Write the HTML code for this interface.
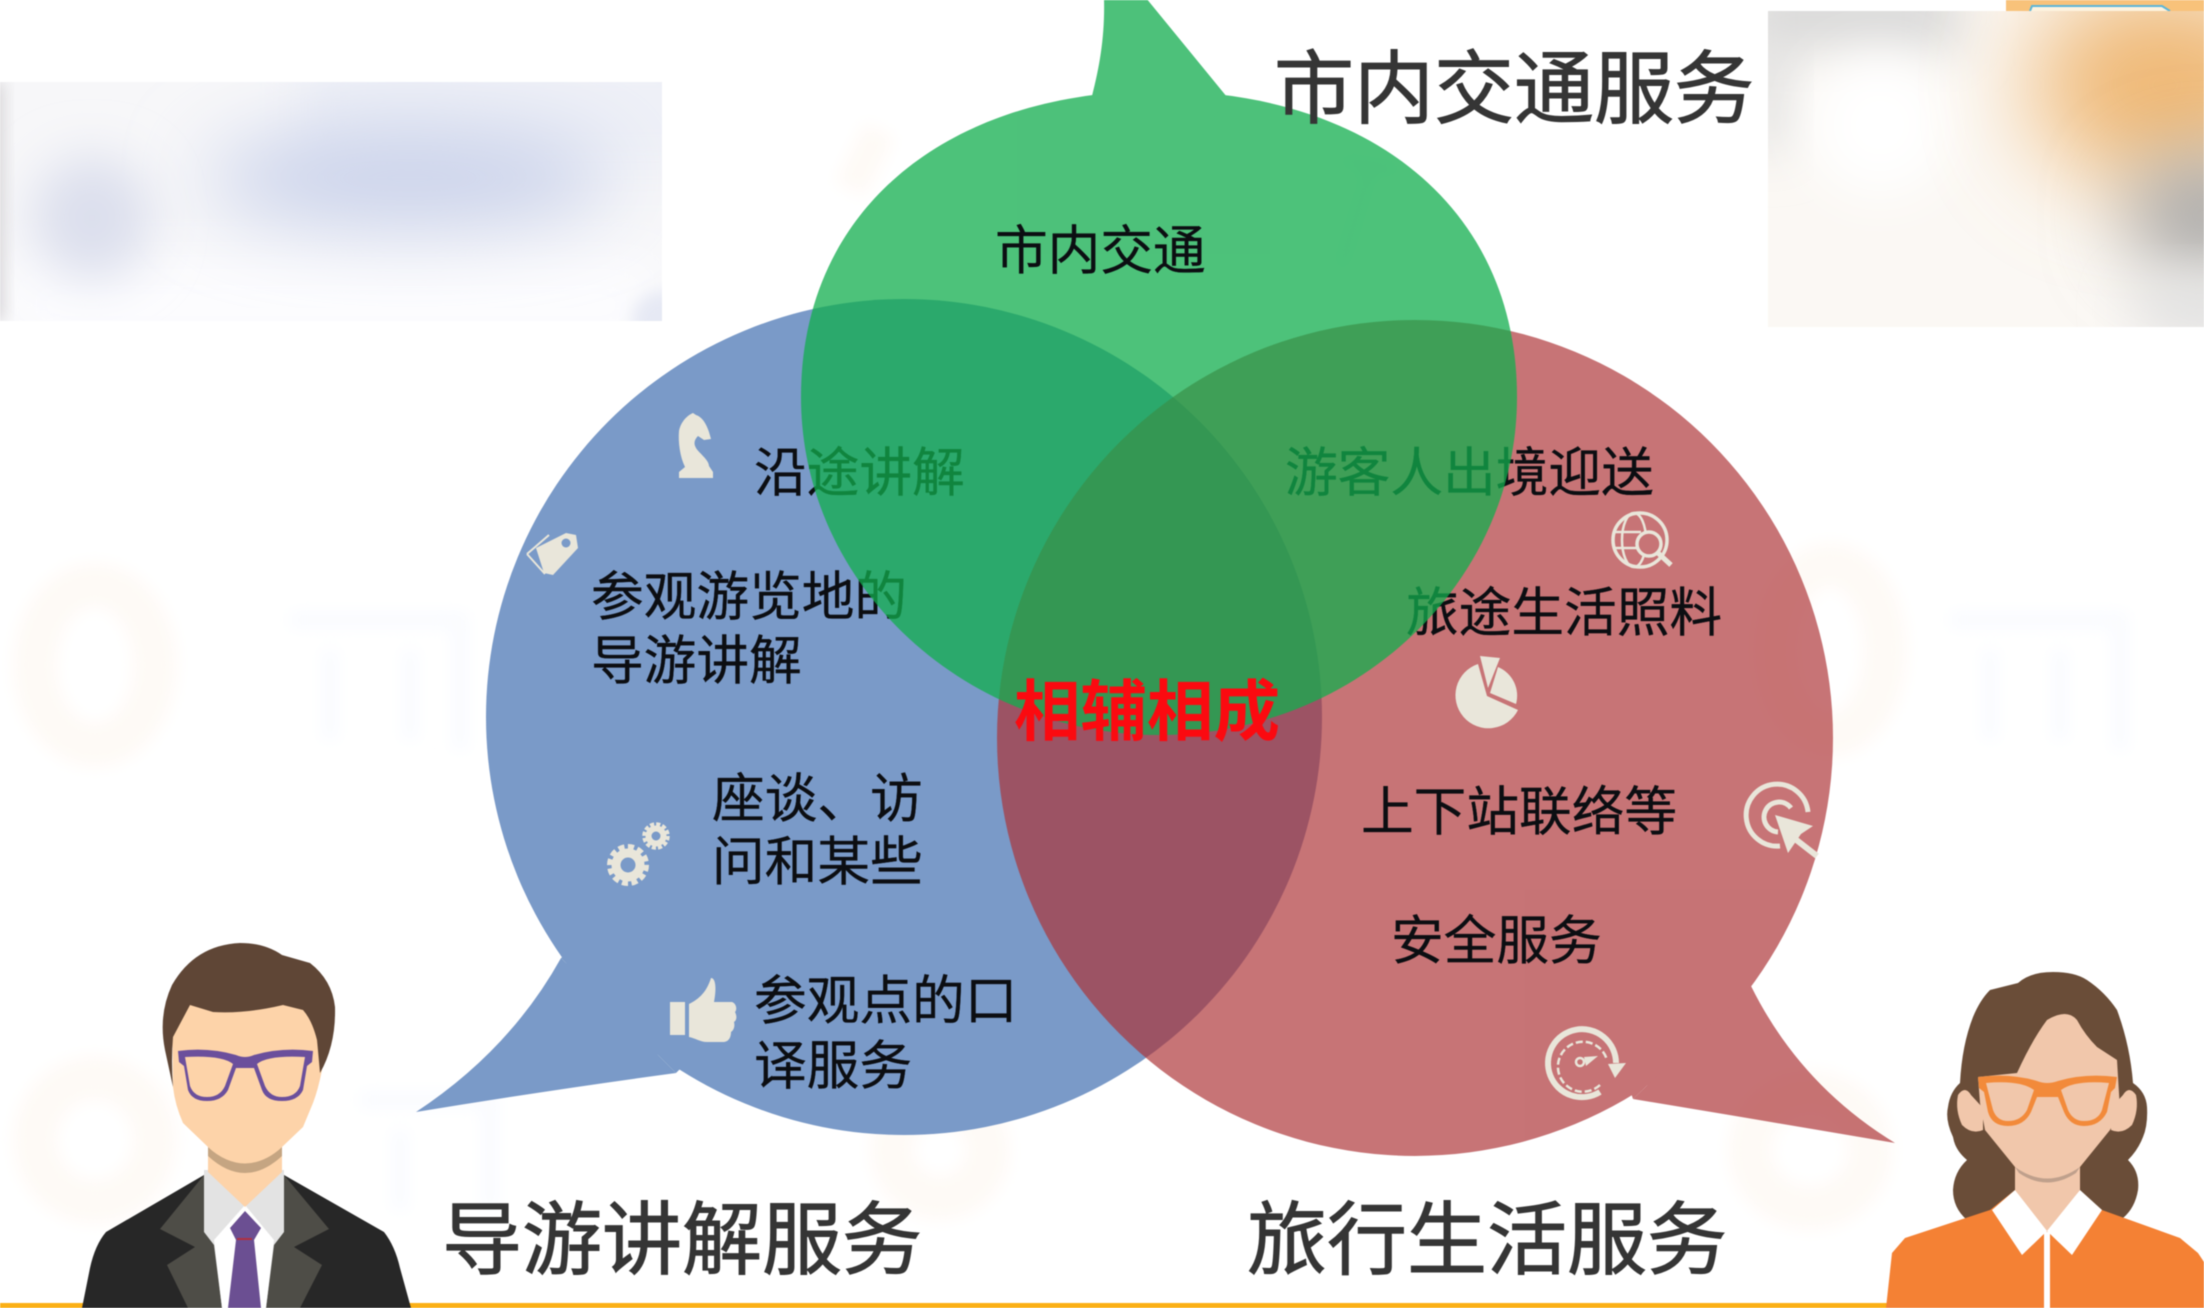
<!DOCTYPE html>
<html><head><meta charset="utf-8"><style>
html,body{margin:0;padding:0;background:#fff;width:2204px;height:1308px;overflow:hidden}
svg{display:block;filter:blur(.6px)}
text{font-family:"Liberation Sans","Noto Sans CJK SC",sans-serif}
.b{font-size:52.7px;fill:#0c0e12;stroke:#0c0e12;stroke-width:.35}
.t{font-size:80px;fill:#353535;stroke:#353535;stroke-width:1}
</style></head><body>
<svg width="2204" height="1308" viewBox="0 0 2204 1308" xmlns="http://www.w3.org/2000/svg">
<defs>
<filter id="f50" x="-80%" y="-80%" width="260%" height="260%"><feGaussianBlur stdDeviation="50"/></filter>
<filter id="f40" x="-80%" y="-80%" width="260%" height="260%"><feGaussianBlur stdDeviation="40"/></filter>
<filter id="f25" x="-60%" y="-60%" width="220%" height="220%"><feGaussianBlur stdDeviation="25"/></filter>
<filter id="f8" x="-30%" y="-30%" width="160%" height="160%"><feGaussianBlur stdDeviation="8"/></filter>
<clipPath id="cl"><rect x="0" y="82" width="662" height="239"/></clipPath>
<clipPath id="cr"><rect x="1768" y="11" width="436" height="316"/></clipPath>
</defs>
<rect width="2204" height="1308" fill="#fff"/>

<!-- faint watermarks -->
<g filter="url(#f8)" fill="none" stroke-width="44">
<ellipse cx="95" cy="665" rx="60" ry="80" stroke="#fefaf6"/>
<ellipse cx="95" cy="1140" rx="60" ry="62" stroke="#fefaf6"/>
<ellipse cx="1830" cy="650" rx="55" ry="85" stroke="#fefaf6"/>
<ellipse cx="1810" cy="1150" rx="60" ry="58" stroke="#fefaf6"/>
<ellipse cx="940" cy="1150" rx="48" ry="48" stroke="#fefaf6"/>
<path d="M880 130L850 190" stroke="#fefaf6" stroke-width="34"/>
<path d="M290 620h170v130M330 650v90M410 650v90" stroke="#f9fbfe" stroke-width="16"/>
<path d="M1950 620h170v130M1990 650v90M2060 650v90" stroke="#f9fbfe" stroke-width="16"/>
<path d="M360 1100h130v110M400 1130v80" stroke="#f9fbfe" stroke-width="16"/>
<path d="M2090 1090v110" stroke="#f4f8fd" stroke-width="30"/>
<path d="M1340 160l60 10M1370 170l-30 100" stroke="#f9fbfe" stroke-width="14"/>
</g>

<!-- blurred top left -->
<g clip-path="url(#cl)">
<rect x="0" y="82" width="662" height="239" fill="#f7f7f9"/>
<rect x="300" y="50" width="420" height="120" fill="#eef0f7" filter="url(#f25)"/>
<rect x="0" y="255" width="662" height="100" fill="#fcfcfe" filter="url(#f25)"/>
<ellipse cx="410" cy="178" rx="205" ry="50" fill="#c9d1ea" filter="url(#f40)"/>
<ellipse cx="92" cy="218" rx="60" ry="62" fill="#dcdfed" filter="url(#f25)"/>
<rect x="-30" y="82" width="34" height="239" fill="#d8d6d8" filter="url(#f8)"/>
<circle cx="662" cy="321" r="30" fill="#e6e9f4" filter="url(#f8)"/>
</g>

<!-- blurred top right -->
<rect x="2006" y="0" width="198" height="12" fill="#f8c27a"/>
<path d="M2030 11l2-5h130l8 5" fill="#fdf3df" stroke="#5db6d8" stroke-width="2"/>
<g clip-path="url(#cr)">
<rect x="1768" y="11" width="436" height="316" fill="#fbf8f4"/>
<rect x="1740" y="-20" width="220" height="70" fill="#d8d8d8" filter="url(#f25)"/>
<rect x="1750" y="30" width="40" height="120" fill="#dedede" filter="url(#f25)"/>
<ellipse cx="1880" cy="125" rx="70" ry="70" fill="#fff" filter="url(#f25)"/>
<ellipse cx="2165" cy="85" rx="135" ry="100" fill="#efb874" filter="url(#f50)"/>
<ellipse cx="2205" cy="215" rx="80" ry="60" fill="#a8a8a8" filter="url(#f40)"/>
<ellipse cx="2200" cy="310" rx="70" ry="30" fill="#e2e2e2" filter="url(#f25)"/>
</g>

<!-- blue bubble -->
<g fill="#7a9ac8">
<circle cx="904" cy="717" r="418"/>
<path d="M561 958L676 1073Q550 1090 416 1112Q510 1050 561 958Z"/>
<path d="M561 958L676 1073L750 1000L650 900Z"/>
</g>
<!-- red bubble -->
<g fill="#ac3235" opacity=".68">
<path d="M1833 738A418 418 0 1 1 1833 737.9Z M1751 986L1633 1099L1600 1000L1700 930Z" fill-rule="nonzero"/>
<path d="M1751 986L1633 1099Q1760 1120 1895 1143Q1800 1085 1751 986Z"/>
</g>

<!-- body text -->
<text class="b" x="754" y="491">沿途讲解</text>
<text class="b" x="591" y="615">参观游览地的</text>
<text class="b" x="591" y="679">导游讲解</text>
<text class="b" x="712" y="817">座谈、访</text>
<text class="b" x="712" y="880">问和某些</text>
<text class="b" x="754" y="1019">参观点的口</text>
<text class="b" x="754" y="1084">译服务</text>
<text class="b" x="1285" y="491">游客人出境迎送</text>
<text class="b" x="1406" y="631">旅途生活照料</text>
<text class="b" x="1361" y="830">上下站联络等</text>
<text class="b" x="1391" y="959">安全服务</text>

<!-- icons -->
<g fill="#e9e6da" stroke="none">
<!-- knight -->
<path d="M679 478v-6l6-5c-5-10-7-25-6-36c2-10 9-16 14-18l3 2c6 2 10 8 13 17l2 7-7 1-6-4c-3 3-5 7-2 12c3 5 13 12 13 18l4 6v6z"/>
<!-- tag -->
<path d="M536 548L566 533L576 535L578 548L553 575L544 573Z"/>
<path d="M527 555L549 536M527 555L545 575" stroke="#e9e6da" stroke-width="2" fill="none" transform="translate(0,-1)"/>
<circle cx="566" cy="543" r="4.5" fill="#7a9ac8"/>
<!-- gears -->
<g fill="none" stroke="#e9e6da">
<circle cx="628" cy="865" r="12" stroke-width="9"/>
<circle cx="628" cy="865" r="18" stroke-width="6" stroke-dasharray="6 3.4"/>
<circle cx="656" cy="836" r="7.5" stroke-width="6"/>
<circle cx="656" cy="836" r="11.5" stroke-width="4.5" stroke-dasharray="4 2"/>
</g>
<!-- thumb -->
<rect x="670" y="1002" width="15" height="33"/>
<path d="M689 1004c8-4 17-10 22-26c4 0 6 8 3 24h18c5 2 5 8 3 10c2 4 2 8-1 10c1 4 0 8-3 10c0 5-2 10-8 10h-16c-7 0-12-4-18-5z"/>
<!-- pie -->
<path d="M1487 696L1518 710A33 33 0 1 1 1478 664Z"/>
<path d="M1480 656L1500 658L1488 688Z"/>
<path d="M1498 667A31 31 0 0 1 1516 704L1490 693Z"/>
</g>
<g fill="none" stroke="#e9e6da">
<!-- globe -->
<circle cx="1640" cy="540" r="27" stroke-width="3.5"/>
<ellipse cx="1634" cy="540" rx="12" ry="27" stroke-width="2.5"/>
<path d="M1613 532h28M1613 548h24" stroke-width="2.5"/>
<circle cx="1649" cy="544" r="12" stroke-width="3.5" fill="#c77476"/>
<path d="M1658 553l13 12" stroke-width="5"/>
<!-- target -->
<path d="M1808 812A31 31 0 1 0 1780 846" stroke-width="5"/>
<path d="M1791 808A15 15 0 1 0 1778 832" stroke-width="5"/>
<path d="M1790 835l27 21" stroke-width="6"/>
<!-- speedometer -->
<path d="M1616 1063A34 34 0 1 0 1600 1092" stroke-width="6"/>
<path d="M1600 1085A25 25 0 1 1 1607 1060" stroke-width="2.5" stroke-dasharray="7 3"/>
<circle cx="1580" cy="1062" r="4" stroke-width="2.5"/>
</g>
<g fill="#e9e6da">
<path d="M1775 815L1813 826L1801 834L1788 853Z"/>
<path d="M1584 1057l14-1-12 10z"/>
<path d="M1608 1064l18-1-11 15z"/>
</g>

<!-- green bubble (over text) -->
<g fill="#12ad4e" opacity=".75">
<path d="M801 397C801 206 951 91 1159 91C1367 91 1517 206 1517 397C1517 583 1356 735 1159 735C962 735 801 583 801 397Z"/>
<path d="M1092 96C1100 65 1105 35 1104 -2H1146L1227 97L1200 140H1092Z"/>
</g>

<!-- center & titles -->
<text class="b" x="995" y="269">市内交通</text>
<text x="1014" y="735" font-size="66.5" font-weight="700" fill="#fb0a10">相辅相成</text>
<text class="t" x="1274" y="117">市内交通服务</text>
<text class="t" x="442" y="1268">导游讲解服务</text>
<text class="t" x="1247" y="1268">旅行生活服务</text>

<!-- bottom line -->
<rect x="0" y="1303" width="2204" height="5" fill="#fbb016"/>

<!-- man -->
<path d="M82 1308L90 1268Q95 1245 106 1232L204 1175H284L384 1232Q395 1246 400 1268L411 1308Z" fill="#272727"/>
<path d="M204 1175L160 1229L195 1247L167 1265L188 1308H300L322 1265L294 1247L329 1229L284 1175Z" fill="#4e4d47"/>
<path d="M204 1170V1232L214 1245L222 1308H266L274 1245L284 1232V1170Z" fill="#e3e3e3"/>
<path d="M214 1240L245 1205L274 1240L266 1308H222Z" fill="#fff"/>
<path d="M208 1130H282V1172L245 1207L208 1172Z" fill="#fdd3a9"/>
<path d="M208 1147Q245 1180 282 1147V1156Q245 1190 208 1156Z" fill="#c5a582"/>
<path d="M245 1211L261 1228L254 1240L261 1308H228L236 1240L230 1228Z" fill="#6b4f92"/>
<rect x="237" y="1238" width="15" height="2" fill="#b03040"/>
<path d="M172 1000H322V1070Q318 1090 313 1103L303 1127L282 1147Q265 1163 245 1163Q225 1163 208 1147L183 1123Q175 1105 173 1087Z" fill="#fdd3a9"/>
<path d="M173 1087L165 1050Q158 1015 172 985Q195 945 240 943Q265 943 282 955L310 963Q332 980 335 1007Q336 1045 320 1073Q318 1050 317 1040Q312 1020 303 1010L283 1005Q245 1014 213 1012L190 1005L173 1037Q171 1060 173 1087Z" fill="#5f4636"/>
<g fill="#6b4f9c">
<path d="M178 1051Q208 1047 236 1055Q245 1059 254 1055Q282 1047 313 1051L312 1062L307 1066L303 1090Q298 1101 282 1101Q266 1101 262 1090L254 1068H236L228 1090Q222 1101 207 1101Q192 1101 188 1090L184 1066L179 1062ZM185 1057L190 1086Q194 1097 207 1097Q220 1097 225 1086L233 1064Q222 1055 185 1057ZM305 1057Q268 1055 257 1064L265 1086Q270 1097 282 1097Q296 1097 300 1086Z" fill-rule="evenodd"/>
</g>

<!-- woman -->
<path d="M2053 972Q2075 972 2087 980Q2105 992 2117 1010Q2130 1045 2133 1083Q2146 1092 2147 1107Q2148 1125 2143 1137Q2138 1150 2128 1160Q2140 1172 2138 1190Q2135 1208 2123 1218L2060 1235L1967 1220Q1953 1208 1953 1190Q1954 1172 1967 1160Q1955 1150 1953 1137Q1945 1120 1948 1107Q1950 1092 1960 1083Q1962 1045 1973 1017Q1980 1000 1990 990L2018 983Q2030 972 2053 972Z" fill="#6a4d38"/>
<path d="M1958 1095Q1965 1085 1971 1095L1983 1108V1130Q1972 1135 1962 1125Q1955 1110 1958 1095Z" fill="#f1c7ab"/>
<path d="M2136 1095Q2129 1085 2123 1095L2111 1108V1130Q2122 1135 2132 1125Q2139 1110 2136 1095Z" fill="#f1c7ab"/>
<path d="M1886 1308L1892 1253L1905 1238L1990 1210L2015 1190H2079L2102 1210L2180 1238L2198 1253L2204 1262V1308Z" fill="#f48134"/>
<path d="M2015 1160H2080V1190L2047 1235L2015 1190Z" fill="#f1c7ab"/>
<path d="M1978 1077L2017 1073Q2032 1040 2047 1020Q2067 1008 2077 1020Q2085 1035 2097 1047L2117 1060L2120 1110L2110 1130L2080 1167Q2060 1183 2047 1183Q2032 1183 2015 1167L1985 1130L1980 1103Z" fill="#f1c7ab"/>
<path d="M2015 1167Q2047 1190 2080 1167L2076 1173Q2047 1192 2019 1173Z" fill="#bfa08c"/>
<path d="M2015 1190L1992 1210L2022 1255L2047 1231ZM2080 1190L2102 1210L2072 1255L2047 1231Z" fill="#fff"/>
<rect x="2044" y="1232" width="6" height="76" fill="#fff"/>
<path d="M1978 1077Q2010 1073 2037 1081Q2047 1085 2058 1081Q2085 1073 2117 1077L2115 1088L2111 1092L2107 1112Q2100 1126 2084 1126Q2070 1126 2064 1112L2058 1097H2037L2031 1112Q2024 1126 2008 1126Q1992 1126 1988 1112L1984 1092L1979 1088ZM1986 1083L1993 1110Q1997 1121 2008 1121Q2021 1121 2027 1110L2034 1090Q2020 1080 1986 1083ZM2109 1083Q2075 1080 2061 1090L2068 1110Q2073 1121 2084 1121Q2098 1121 2102 1110Z" fill="#f28a3a" fill-rule="evenodd"/>
</svg>
</body></html>
